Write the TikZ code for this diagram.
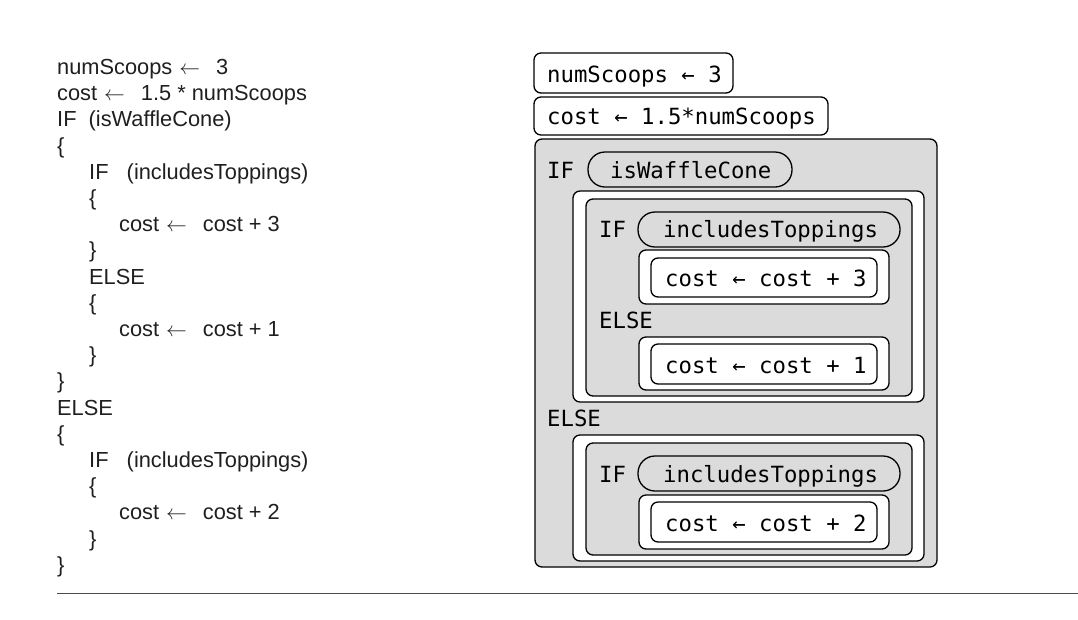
\documentclass[tikz,border=0pt]{standalone}
\usepackage{fontspec}
\setmainfont{Liberation Sans}
\newfontfamily\blockfont{DejaVu Sans Mono}
\usetikzlibrary{calc}
\tikzset{
	blockgray/.style={draw=black, line width=1.3pt, fill=black!14, rounded corners=7pt},
	blockwhite/.style={draw=black, line width=1.3pt, fill=white, rounded corners=7pt},
	condpill/.style={draw=black, line width=1.3pt, fill=black!14, rounded corners=17pt},
	pseudo/.style={anchor=base west, inner sep=0pt, text=black!88, font=\fontsize{21.8}{26}\selectfont},
	blocktext/.style={anchor=base west, inner sep=0pt, font=\blockfont\fontsize{22.3}{26}\selectfont}
}
\def\codebox[#1](#2)(#3){\draw[#1] (#2) rectangle (#3);}
\def\getsarrow{\hspace{7pt}$\leftarrow$\hspace{16pt}}

\begin{document}
\begin{tikzpicture}[x=1pt, y=-1pt]
		%%%%% START %%%%%
		\useasboundingbox (0,0) rectangle (1078,619);
		
		% pseudocode
		\node[pseudo] (p0) at (57, 74.5) {numScoops\getsarrow3};
		\node[pseudo] (p1) at (57, 100.7) {cost\getsarrow1.5 * numScoops};
		\node[pseudo] (p2) at (57, 126.9) {IF\ \ (isWaffleCone)};
		\node[pseudo] (p3) at (57, 153.1) {\{};
		\node[pseudo] (p4) at (89, 179.3) {IF\ \ \ (includesToppings)};
		\node[pseudo] (p5) at (89, 205.5) {\{};
		\node[pseudo] (p6) at (119, 231.7) {cost\getsarrow cost + 3};
		\node[pseudo] (p7) at (89, 257.9) {\}};
		\node[pseudo] (p8) at (89, 284.1) {ELSE};
		\node[pseudo] (p9) at (89, 310.3) {\{};
		\node[pseudo] (p10) at (119, 336.5) {cost\getsarrow cost + 1};
		\node[pseudo] (p11) at (89, 362.7) {\}};
		\node[pseudo] (p12) at (57, 388.9) {\}};
		\node[pseudo] (p13) at (57, 415.1) {ELSE};
		\node[pseudo] (p14) at (57, 441.3) {\{};
		\node[pseudo] (p15) at (89, 467.5) {IF\ \ \ (includesToppings)};
		\node[pseudo] (p16) at (89, 493.7) {\{};
		\node[pseudo] (p17) at (119, 519.9) {cost\getsarrow cost + 2};
		\node[pseudo] (p18) at (89, 546.1) {\}};
		\node[pseudo] (p19) at (57, 572.3) {\}};
		
		% blocks
		\codebox[blockwhite](534,53)(733,93)
		\codebox[blockwhite](534,97)(828,135)
		\codebox[blockgray](535,139)(937,567)
		\codebox[condpill](588,152)(792,187)
		
		\codebox[blockwhite](573,191)(924,402)
		\codebox[blockgray](586,199)(912,396)
		\codebox[condpill](638,212)(900,247)
		\codebox[blockwhite](639,250)(889,304)
		\codebox[blockwhite](651,258)(877,297)
		\codebox[blockwhite](639,337)(889,390)
		\codebox[blockwhite](651,344)(877,384)
		
		\codebox[blockwhite](573,435)(924,561)
		\codebox[blockgray](586,443)(912,555)
		\codebox[condpill](638,456)(900,491)
		\codebox[blockwhite](639,495)(889,549)
		\codebox[blockwhite](651,502)(877,542)
		
		\node[blocktext] (assignscoops) at (547,82) {numScoops ← 3};
		\node[blocktext] (assigncost) at (547,124) {cost ← 1.5*numScoops};
		\node[blocktext] (ifouter) at (547,178) {IF};
		\node[blocktext] (condwaffle) at (610,178) {isWaffleCone};
		\node[blocktext] (ifthen) at (599,237) {IF};
		\node[blocktext] (condtopa) at (663,237) {includesToppings};
		\node[blocktext] (addthree) at (665,286) {cost ← cost + 3};
		\node[blocktext] (elseinner) at (599,328) {ELSE};
		\node[blocktext] (addone) at (665,373) {cost ← cost + 1};
		\node[blocktext] (elseouter) at (547,426) {ELSE};
		\node[blocktext] (ifelse) at (599,482) {IF};
		\node[blocktext] (condtopb) at (663,482) {includesToppings};
		\node[blocktext] (addtwo) at (665,531) {cost ← cost + 2};
		
		\draw[black!70, line width=1pt] (57,593) -- (1078,593);
		
		%%%%% END %%%%%
	\end{tikzpicture}
\end{document}
